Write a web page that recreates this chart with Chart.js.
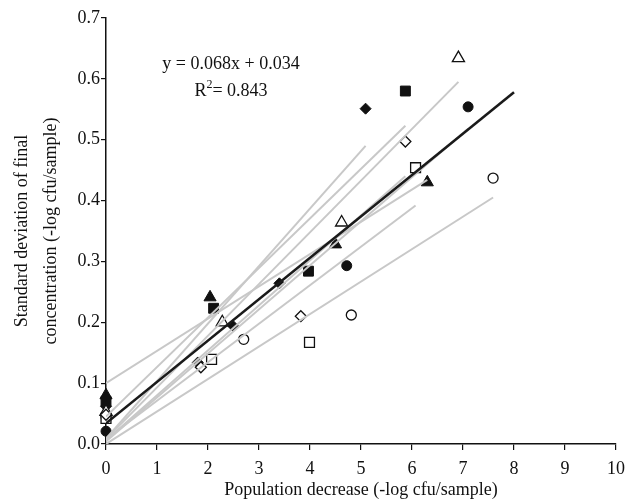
<!DOCTYPE html>
<html lang="en">

<head>
    <meta charset="UTF-8">
    <title>Standard deviation vs population decrease</title>
    <script src="https://cdn.jsdelivr.net/npm/chart.js"></script>
    <style>
        body { margin: 0; background: #fff; }
        #wrap { width: 627px; height: 502px; }
    </style>
</head>

<body>
    <div id="wrap"><canvas id="myChart" width="627" height="502"></canvas></div>
    <script>
        // Points per series (x = population decrease, y = std deviation)
        const filledDiamondX = [0, 1.80, 2.49, 3.40, 5.09];
        const filledDiamondY = [0.062, 0.134, 0.194, 0.264, 0.551];
        const filledSquareX = [0, 2.11, 3.97, 5.87];
        const filledSquareY = [0.070, 0.223, 0.284, 0.580];
        const filledTriangleX = [0, 2.04, 4.50, 6.30];
        const filledTriangleY = [0.080, 0.241, 0.328, 0.430];
        const filledCircleX = [0, 4.72, 7.10];
        const filledCircleY = [0.021, 0.293, 0.554];
        const openDiamondX = [0, 1.86, 3.82, 5.87];
        const openDiamondY = [0.048, 0.126, 0.210, 0.497];
        const openSquareX = [0, 2.07, 3.99, 6.07];
        const openSquareY = [0.042, 0.139, 0.167, 0.454];
        const openTriangleX = [0, 2.28, 4.62, 6.91];
        const openTriangleY = [0.053, 0.200, 0.364, 0.634];
        const openCircleX = [0, 2.70, 4.81, 7.59];
        const openCircleY = [0.045, 0.172, 0.212, 0.437];

        // Fitted line of each series: [x start, y start, x end, y end]
        const seriesFits = [
            [0, 0.009, 5.09, 0.490],
            [0, 0.045, 5.87, 0.523],
            [0, 0.100, 6.30, 0.434],
            [0, 0.004, 7.10, 0.518],
            [0, 0.006, 5.87, 0.440],
            [0, 0.008, 6.07, 0.392],
            [0, 0.008, 6.91, 0.595],
            [0, 0.000, 7.59, 0.405]
        ];

        // Overall regression y = 0.068x + 0.034
        const fitX = [0, 8];
        const fitY = [0.034, 0.578];

        const xTickValues = [0, 1, 2, 3, 4, 5, 6, 7, 8, 9, 10];
        const yTickLabels = ['0.0', '0.1', '0.2', '0.3', '0.4', '0.5', '0.6', '0.7'];

        const serif = "'Liberation Serif', 'Times New Roman', serif";

        function pts(xs, ys) {
            return xs.map((x, i) => ({ x: x, y: ys[i] }));
        }

        function markerSet(xs, ys, style, filled, radius) {
            return {
                data: pts(xs, ys),
                pointStyle: style,
                pointRadius: radius,
                pointHoverRadius: radius,
                pointBackgroundColor: filled ? '#111' : '#fff',
                pointBorderColor: '#111',
                pointBorderWidth: filled ? 1 : 1.3,
                showLine: false,
                clip: false,
                // markers go under the lines, open ones over the filled ones
                order: filled ? 4 : 3
            };
        }

        const datasets = [];
        datasets.push(markerSet(filledDiamondX, filledDiamondY, 'rectRot', true, 5.5));
        datasets.push(markerSet(filledSquareX, filledSquareY, 'rect', true, 7));
        datasets.push(markerSet(filledTriangleX, filledTriangleY, 'triangle', true, 7));
        datasets.push(markerSet(filledCircleX, filledCircleY, 'circle', true, 5));
        datasets.push(markerSet(openDiamondX, openDiamondY, 'rectRot', false, 5.5));
        datasets.push(markerSet(openSquareX, openSquareY, 'rect', false, 7));
        datasets.push(markerSet(openTriangleX, openTriangleY, 'triangle', false, 7));
        datasets.push(markerSet(openCircleX, openCircleY, 'circle', false, 5));

        datasets.push({
            data: pts(fitX, fitY),
            showLine: true,
            borderColor: '#1a1a1a',
            borderWidth: 2.6,
            pointRadius: 0,
            order: 0
        });

        seriesFits.forEach(f => {
            datasets.push({
                data: [{ x: f[0], y: f[1] }, { x: f[2], y: f[3] }],
                showLine: true,
                borderColor: '#c8c8c8',
                borderWidth: 2,
                pointRadius: 0,
                order: 1
            });
        });

        // equation text in the upper left
        const equationText = {
            id: 'equationText',
            afterDraw(chart) {
                const c = chart.ctx;
                c.save();
                c.fillStyle = '#111';
                c.font = '18px ' + serif;
                c.textBaseline = 'alphabetic';
                c.textAlign = 'center';
                c.fillText('y = 0.068x + 0.034', 231, 69);
                // R² line with superscript
                const a = 'R', b = '= 0.843';
                c.textAlign = 'left';
                const wa = c.measureText(a).width;
                const wb = c.measureText(b).width;
                c.font = '12px ' + serif;
                const ws = c.measureText('2').width;
                let x = 231 - (wa + ws + wb) / 2;
                c.font = '18px ' + serif;
                c.fillText(a, x, 96);
                c.font = '12px ' + serif;
                c.fillText('2', x + wa, 88);
                c.font = '18px ' + serif;
                c.fillText(b, x + wa + ws, 96);
                c.restore();
            }
        };

        const ctx = document.getElementById('myChart').getContext('2d');
        const myChart = new Chart(ctx, {
            type: 'scatter',
            data: { datasets: datasets },
            options: {
                responsive: false,
                animation: false,
                layout: { padding: { top: 18, right: 11, left: 0, bottom: 0 } },
                plugins: {
                    legend: { display: false },
                    tooltip: { enabled: false }
                },
                scales: {
                    x: {
                        type: 'linear',
                        min: 0,
                        max: 10,
                        afterFit: s => {
                            s.height = 58;
                            // keep the plot edge fixed, the layout padding leaves room for "10"
                            s.paddingLeft = 0;
                            s.paddingRight = 0;
                        },
                        afterBuildTicks: s => { s.ticks = xTickValues.map(v => ({ value: v })); },
                        border: { display: true, color: '#111', width: 1.5 },
                        grid: { drawOnChartArea: false, tickLength: 6, color: '#111', lineWidth: 1.2 },
                        ticks: {
                            color: '#111',
                            padding: 8,
                            maxRotation: 0,
                            font: { family: serif, size: 18 }
                        },
                        title: {
                            display: true,
                            text: 'Population decrease (-log cfu/sample)',
                            color: '#111',
                            padding: { top: 0, bottom: 1 },
                            font: { family: serif, size: 18 }
                        }
                    },
                    y: {
                        type: 'linear',
                        min: 0,
                        max: 0.7,
                        afterFit: s => { s.width = 106; },
                        afterBuildTicks: s => { s.ticks = yTickLabels.map(t => ({ value: parseFloat(t) })); },
                        border: { display: true, color: '#111', width: 1.5 },
                        grid: { drawOnChartArea: false, tickLength: 5, color: '#111', lineWidth: 1.2 },
                        ticks: {
                            color: '#111',
                            padding: 1,
                            font: { family: serif, size: 18 },
                            callback: (v, i) => yTickLabels[i]
                        },
                        title: {
                            display: true,
                            text: ['Standard deviation of final', 'concentration (-log cfu/sample)'],
                            color: '#111',
                            padding: { top: 7, bottom: 0 },
                            font: { family: serif, size: 18, lineHeight: 1.65 }
                        }
                    }
                }
            },
            plugins: [equationText]
        });
    </script>
</body>

</html>
